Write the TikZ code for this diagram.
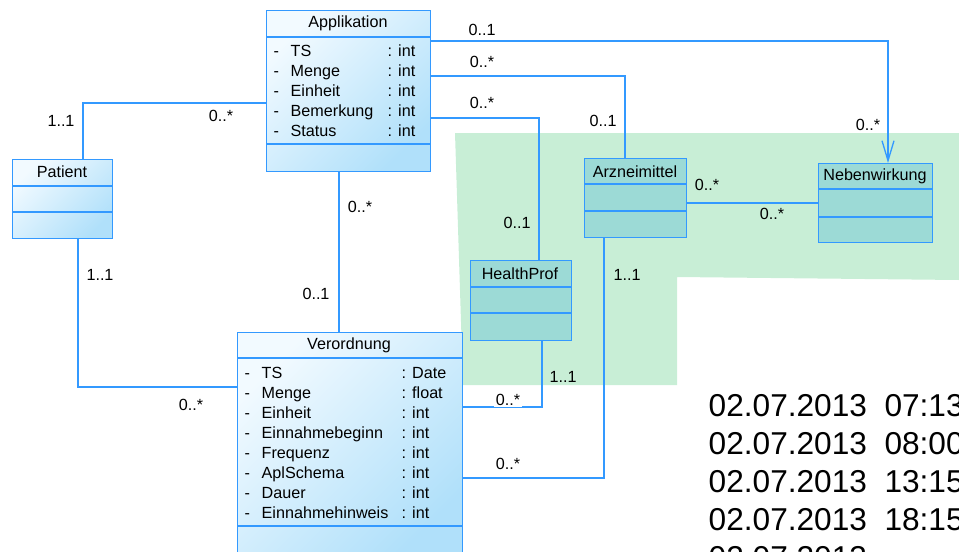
\documentclass[tikz,border=0pt]{standalone}
\usepackage{fontspec}
\setmainfont{Liberation Sans}
\usetikzlibrary{arrows.meta}

\definecolor{umlblue}{RGB}{51,153,255}
\definecolor{clstop}{RGB}{242,250,255}
\definecolor{clsbot}{RGB}{176,224,250}
\definecolor{zonegreen}{RGB}{200,238,214}
\definecolor{zonecls}{RGB}{156,218,214}

\begin{document}
\begin{tikzpicture}[
        x = 0.02cm, y = -0.02cm, % one unit = one pixel of the screenshot
        line width = 0.8pt,
        cls/.style = {draw=umlblue, anchor=north west, inner sep=0pt,
                      top color=clstop, bottom color=clsbot, shading angle=45},
        zcls/.style = {draw=umlblue, anchor=north west, inner sep=0pt, fill=zonecls},
        divider/.style = {draw=umlblue},
        assoc/.style = {draw=umlblue, line width=0.75pt},
        ctitle/.style = {inner sep=0pt, font=\fontsize{9.2}{11}\selectfont},
        attr/.style = {anchor=west, inner sep=0pt, text height=1.6ex, text depth=0.3ex,
                       font=\fontsize{9.2}{11}\selectfont},
        mult/.style = {inner sep=1pt, font=\fontsize{9.2}{11}\selectfont},
        stamp/.style = {anchor=west, inner sep=0pt, font=\fontsize{18}{21}\selectfont}
        ]
  \useasboundingbox (0,0) rectangle (959,551);

  % green zone
  \fill[zonegreen] (455,133) -- (959,133) -- (959,280) -- (677,277)
                   -- (677,385) -- (463,385) -- cycle;

  % classes
  \node[cls, minimum width=3.28cm, minimum height=3.22cm] (ap) at (266,10) {};
  \node[cls, minimum width=2.00cm, minimum height=1.58cm] (pat) at (12,159) {};
  \node[cls, minimum width=4.50cm, minimum height=4.48cm] (vo) at (237,332) {};
  \node[zcls, minimum width=2.04cm, minimum height=1.58cm] (arz) at (584,158) {};
  \node[zcls, minimum width=2.28cm, minimum height=1.58cm] (neb) at (818,163) {};
  \node[zcls, minimum width=2.02cm, minimum height=1.60cm] (hp) at (470,260) {};

  \draw[divider] (ap.west |- 0,37) -- (ap.east |- 0,37);
  \draw[divider] (ap.west |- 0,144) -- (ap.east |- 0,144);
  \draw[divider] (pat.west |- 0,186) -- (pat.east |- 0,186);
  \draw[divider] (pat.west |- 0,212) -- (pat.east |- 0,212);
  \draw[divider] (vo.west |- 0,358) -- (vo.east |- 0,358);
  \draw[divider] (vo.west |- 0,526) -- (vo.east |- 0,526);
  \draw[divider] (arz.west |- 0,184) -- (arz.east |- 0,184);
  \draw[divider] (arz.west |- 0,211) -- (arz.east |- 0,211);
  \draw[divider] (neb.west |- 0,189) -- (neb.east |- 0,189);
  \draw[divider] (neb.west |- 0,217) -- (neb.east |- 0,217);
  \draw[divider] (hp.west |- 0,287) -- (hp.east |- 0,287);
  \draw[divider] (hp.west |- 0,313) -- (hp.east |- 0,313);

  \node[ctitle] (ap-title) at (348,23) {Applikation};
  \node[ctitle] (pat-title) at (62,172) {Patient};
  \node[ctitle] (vo-title) at (349,345) {Verordnung};
  \node[ctitle] (arz-title) at (635,172) {Arzneimittel};
  \node[ctitle] (neb-title) at (875,176) {Nebenwirkung};
  \node[ctitle] (hp-title) at (520,274) {HealthProf};

  \foreach \n/\t [count=\i] in {TS/int, Menge/int, Einheit/int, Bemerkung/int, Status/int} {
    \node[attr] (ap-d\i) at (273,30+20*\i) {-};
    \node[attr] (ap-n\i) at (290,30+20*\i) {\n};
    \node[attr] (ap-t\i) at (387,30+20*\i) {: \t};
  }
  \foreach \n/\t [count=\i] in {TS/Date, Menge/float, Einheit/int, Einnahmebeginn/int,
                                Frequenz/int, AplSchema/int, Dauer/int, Einnahmehinweis/int} {
    \node[attr] (vo-d\i) at (244,352+20*\i) {-};
    \node[attr] (vo-n\i) at (261,352+20*\i) {\n};
    \node[attr] (vo-t\i) at (401,352+20*\i) {: \t};
  }

  % associations
  \draw[assoc] (pat.north -| 83,0) |- (ap.west |- 0,103);
  \draw[assoc] (pat.south -| 78,0) |- (vo.west |- 0,387);
  \draw[assoc] (ap.south -| 339,0) -- (vo.north -| 339,0);
  \draw[assoc, -{Straight Barb[length=4mm, width=2.4mm]}] (ap.east |- 0,41) -| (neb.north -| 888,0);
  \draw[assoc] (ap.east |- 0,76) -| (arz.north -| 625,0);
  \draw[assoc] (ap.east |- 0,118) -| (hp.north -| 539,0);
  \draw[assoc] (arz.east |- 0,203) -- (neb.west |- 0,203);
  \draw[assoc] (hp.south -| 542,0) |- (vo.east |- 0,407);
  \draw[assoc] (arz.south -| 604,0) |- (vo.east |- 0,478);

  % multiplicities
  \node[mult] (m1) at (61,121) {1..1};
  \node[mult] (m2) at (221,116) {0..*};
  \node[mult] (m3) at (482,30) {0..1};
  \node[mult] (m4) at (482,62) {0..*};
  \node[mult] (m5) at (482,103) {0..*};
  \node[mult] (m6) at (603,121) {0..1};
  \node[mult] (m7) at (868,125) {0..*};
  \node[mult] (m8) at (360,207) {0..*};
  \node[mult] (m9) at (316,294) {0..1};
  \node[mult] (m10) at (100,275) {1..1};
  \node[mult] (m11) at (191,405) {0..*};
  \node[mult] (m12) at (517,223) {0..1};
  \node[mult] (m13) at (707,185) {0..*};
  \node[mult] (m14) at (772,214) {0..*};
  \node[mult] (m15) at (627,275) {1..1};
  \node[mult] (m16) at (563,377) {1..1};
  \node[mult, fill=white] (m17) at (508,400) {0..*};
  \node[mult] (m18) at (508,464) {0..*};

  % time stamps
  \foreach \t [count=\i] in {07:13, 08:00, 13:15, 18:15}
    \node[stamp] (d\i) at (708,368+38*\i) {02.07.2013~~\t};
  \node[stamp] (d5) at (708,558) {02.07.2013};
\end{tikzpicture}
\end{document}
